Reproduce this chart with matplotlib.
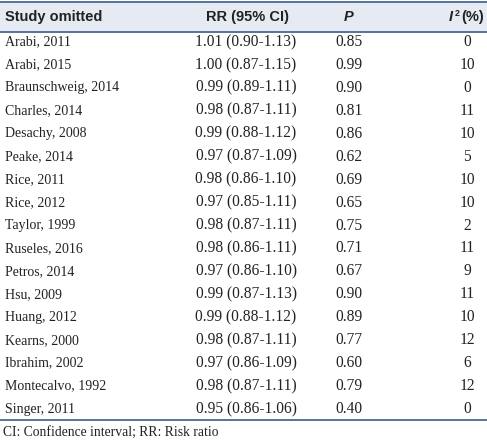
import matplotlib.pyplot as plt
from matplotlib.patches import Rectangle

# table content
studies = ["Arabi, 2011", "Arabi, 2015", "Braunschweig, 2014", "Charles, 2014",
           "Desachy, 2008", "Peake, 2014", "Rice, 2011", "Rice, 2012",
           "Taylor, 1999", "Ruseles, 2016", "Petros, 2014", "Hsu, 2009",
           "Huang, 2012", "Kearns, 2000", "Ibrahim, 2002", "Montecalvo, 1992",
           "Singer, 2011"]
rr_ci = ["1.01 (0.90-1.13)", "1.00 (0.87-1.15)", "0.99 (0.89-1.11)", "0.98 (0.87-1.11)",
         "0.99 (0.88-1.12)", "0.97 (0.87-1.09)", "0.98 (0.86-1.10)", "0.97 (0.85-1.11)",
         "0.98 (0.87-1.11)", "0.98 (0.86-1.11)", "0.97 (0.86-1.10)", "0.99 (0.87-1.13)",
         "0.99 (0.88-1.12)", "0.98 (0.87-1.11)", "0.97 (0.86-1.09)", "0.98 (0.87-1.11)",
         "0.95 (0.86-1.06)"]
p_vals = ["0.85", "0.99", "0.90", "0.81", "0.86", "0.62", "0.69", "0.65", "0.75",
          "0.71", "0.67", "0.90", "0.89", "0.77", "0.60", "0.79", "0.40"]
i2 = ["0", "10", "0", "11", "10", "5", "10", "10", "2", "11", "9", "11", "10",
      "12", "6", "12", "0"]
footnote = "CI: Confidence interval; RR: Risk ratio"

W, H = 487, 443
fig = plt.figure(figsize=(W / 100, H / 100), dpi=100)
ax = fig.add_axes([0, 0, 1, 1])
ax.set_xlim(0, W)
ax.set_ylim(H, 0)
ax.axis("off")

line_col = "#4a6890"
txt_col = "#222222"
head_font = ["Liberation Sans Narrow", "Liberation Sans", "DejaVu Sans"]
body_font = ["Liberation Serif", "DejaVu Serif"]
hs = 10.5   # header size
ns = 10     # study names
ds = 11.2   # numbers

# header band
ax.add_patch(Rectangle((0, 2), W, 30, color="#e6ebf3", lw=0))
ax.plot([0, W], [2, 2], color=line_col, lw=1.3)
ax.plot([0, W], [32, 32], color=line_col, lw=1.3)

hy = 17
ax.text(5, hy, "Study omitted", fontsize=hs, fontweight="bold", family=head_font,
        va="center", ha="left", color=txt_col)
ax.text(247, hy, "RR (95% CI)", fontsize=hs, fontweight="bold", family=head_font,
        va="center", ha="center", color=txt_col)
ax.text(349, hy, "P", fontsize=hs, fontweight="bold", style="italic", family=head_font,
        va="center", ha="center", color=txt_col)
# I^2 (%) built from pieces
ax.text(449, hy, "I", fontsize=hs, fontweight="bold", style="italic", family=head_font,
        va="center", ha="left", color=txt_col)
ax.text(454.5, hy - 4, "2", fontsize=6.5, fontweight="bold", family=head_font,
        va="center", ha="left", color=txt_col)
ax.text(484, hy, "(%)", fontsize=hs, fontweight="bold", family=head_font,
        va="center", ha="right", color=txt_col)

y0 = 42
dy = 22.94
for i in range(len(studies)):
    y = y0 + i * dy
    ax.text(5, y, studies[i], fontsize=ns, family=body_font, va="center", ha="left", color=txt_col)
    ax.text(246, y, rr_ci[i], fontsize=ds, family=body_font, va="center", ha="center", color=txt_col)
    ax.text(349, y, p_vals[i], fontsize=ds, family=body_font, va="center", ha="center", color=txt_col)
    ax.text(467, y, i2[i], fontsize=ds, family=body_font, va="center", ha="center", color=txt_col)

ax.plot([0, W], [420, 420], color=line_col, lw=1.3)
ax.text(3, 432, footnote, fontsize=9.8, family=body_font, va="center", ha="left", color=txt_col)

fig.savefig("out.png", dpi=100)
